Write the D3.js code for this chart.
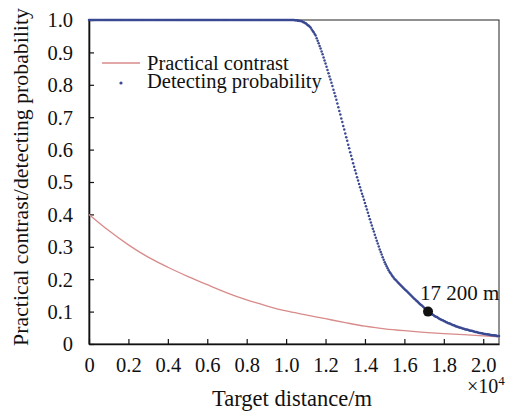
<!DOCTYPE html>
<html><head><meta charset="utf-8">
<script src="https://cdn.jsdelivr.net/npm/d3@7"></script>
<style>body{margin:0;background:#fff}svg{display:block}</style>
</head><body><svg id="c" width="506" height="411"></svg>
<script>
// Target distance (m) of each detecting-probability sample
const distance = [
0,50,100,150,200,250,300,350,400,450,500,550,600,650,700,750,800,850,900,950,
1000,1050,1100,1150,1200,1250,1300,1350,1400,1450,1500,1550,1600,1650,1700,1750,1800,1850,1900,1950,
2000,2050,2100,2150,2200,2250,2300,2350,2400,2450,2500,2550,2600,2650,2700,2750,2800,2850,2900,2950,
3000,3050,3100,3150,3200,3250,3300,3350,3400,3450,3500,3550,3600,3650,3700,3750,3800,3850,3900,3950,
4000,4050,4100,4150,4200,4250,4300,4350,4400,4450,4500,4550,4600,4650,4700,4750,4800,4850,4900,4950,
5000,5050,5100,5150,5200,5250,5300,5350,5400,5450,5500,5550,5600,5650,5700,5750,5800,5850,5900,5950,
6000,6050,6100,6150,6200,6250,6300,6350,6400,6450,6500,6550,6600,6650,6700,6750,6800,6850,6900,6950,
7000,7050,7100,7150,7200,7250,7300,7350,7400,7450,7500,7550,7600,7650,7700,7750,7800,7850,7900,7950,
8000,8050,8100,8150,8200,8250,8300,8350,8400,8450,8500,8550,8600,8650,8700,8750,8800,8850,8900,8950,
9000,9050,9100,9150,9200,9250,9300,9350,9400,9450,9500,9550,9600,9650,9700,9750,9800,9850,9900,9950,
10000,10050,10100,10150,10200,10250,10300,10350,10400,10450,10500,10550,10600,10650,10700,10750,10800,10850,10900,10950,
11000,11050,11100,11150,11200,11250,11300,11350,11400,11450,11500,11550,11600,11650,11700,11750,11800,11850,11900,11950,
12000,12050,12100,12150,12200,12250,12300,12350,12400,12450,12500,12550,12600,12650,12700,12750,12800,12850,12900,12950,
13000,13050,13100,13150,13200,13250,13300,13350,13400,13450,13500,13550,13600,13650,13700,13750,13800,13850,13900,13950,
14000,14050,14100,14150,14200,14250,14300,14350,14400,14450,14500,14550,14600,14650,14700,14750,14800,14850,14900,14950,
15000,15050,15100,15150,15200,15250,15300,15350,15400,15450,15500,15550,15600,15650,15700,15750,15800,15850,15900,15950,
16000,16050,16100,16150,16200,16250,16300,16350,16400,16450,16500,16550,16600,16650,16700,16750,16800,16850,16900,16950,
17000,17050,17100,17150,17200,17250,17300,17350,17400,17450,17500,17550,17600,17650,17700,17750,17800,17850,17900,17950,
18000,18050,18100,18150,18200,18250,18300,18350,18400,18450,18500,18550,18600,18650,18700,18750,18800,18850,18900,18950,
19000,19050,19100,19150,19200,19250,19300,19350,19400,19450,19500,19550,19600,19650,19700,19750,19800,19850,19900,19950,
20000,20050,20100,20150,20200,20250,20300,20350,20400,20450,20500,20550,20600,20650,20700,20750,20800
];
// Detecting probability at each distance
const probability = [
1,1,1,1,1,1,1,1,1,1,1,1,1,1,1,1,1,1,1,1,
1,1,1,1,1,1,1,1,1,1,1,1,1,1,1,1,1,1,1,1,
1,1,1,1,1,1,1,1,1,1,1,1,1,1,1,1,1,1,1,1,
1,1,1,1,1,1,1,1,1,1,1,1,1,1,1,1,1,1,1,1,
1,1,1,1,1,1,1,1,1,1,1,1,1,1,1,1,1,1,1,1,
1,1,1,1,1,1,1,1,1,1,1,1,1,1,1,1,1,1,1,1,
1,1,1,1,1,1,1,1,1,1,1,1,1,1,1,1,1,1,1,1,
1,1,1,1,1,1,1,1,1,1,1,1,1,1,1,1,1,1,1,1,
1,1,1,1,1,1,1,1,1,1,1,1,1,1,1,1,1,1,1,1,
1,1,1,1,1,1,1,1,1,1,1,1,1,1,1,1,1,1,1,1,
1,1,1,1,1,1,1,1,1,0.999,0.999,0.999,0.998,0.998,0.997,0.997,0.996,0.994,0.993,0.991,
0.990,0.987,0.984,0.982,0.979,0.976,0.971,0.966,0.962,0.957,0.952,0.944,0.936,0.928,0.920,0.912,0.903,0.894,0.884,0.875,
0.866,0.856,0.846,0.836,0.826,0.816,0.806,0.796,0.785,0.775,0.765,0.754,0.742,0.731,0.719,0.708,0.696,0.685,0.673,0.662,
0.650,0.638,0.627,0.615,0.604,0.592,0.581,0.570,0.558,0.547,0.536,0.526,0.515,0.505,0.494,0.484,0.474,0.464,0.455,0.445,
0.435,0.425,0.415,0.405,0.395,0.385,0.375,0.366,0.356,0.347,0.337,0.328,0.319,0.310,0.301,0.292,0.284,0.276,0.268,0.260,
0.252,0.246,0.240,0.234,0.228,0.222,0.218,0.214,0.209,0.205,0.201,0.198,0.195,0.191,0.188,0.185,0.182,0.179,0.176,0.173,
0.170,0.167,0.164,0.161,0.158,0.155,0.152,0.149,0.146,0.143,0.140,0.137,0.134,0.132,0.129,0.126,0.123,0.120,0.118,0.115,
0.112,0.109,0.107,0.104,0.102,0.099,0.097,0.095,0.092,0.090,0.088,0.086,0.084,0.083,0.081,0.079,0.077,0.076,0.074,0.073,
0.071,0.070,0.068,0.067,0.065,0.064,0.063,0.062,0.060,0.059,0.058,0.057,0.055,0.054,0.053,0.052,0.051,0.050,0.049,0.048,
0.047,0.046,0.045,0.045,0.044,0.043,0.042,0.041,0.041,0.040,0.039,0.038,0.037,0.037,0.036,0.035,0.034,0.034,0.033,0.033,
0.032,0.031,0.031,0.030,0.030,0.029,0.029,0.028,0.028,0.027,0.027,0.027,0.026,0.026,0.025,0.025,0.025
];
// Practical contrast curve
const contrastDistance = [0,1000,2000,3000,4000,5000,6000,7000,8000,9000,10000,11000,12000,13000,14000,15000,16000,17000,18000,19000,20000,20800];
const contrastValue = [0.40,0.350,0.306,0.268,0.237,0.209,0.183,0.158,0.136,0.118,0.102,0.090,0.078,0.066,0.055,0.047,0.041,0.036,0.032,0.029,0.025,0.022];
const xTicks = [0,2000,4000,6000,8000,10000,12000,14000,16000,18000,20000];
const xTickLabels = ["0","0.2","0.4","0.6","0.8","1.0","1.2","1.4","1.6","1.8","2.0"];
const yTicks = [0,0.1,0.2,0.3,0.4,0.5,0.6,0.7,0.8,0.9,1.0];
const yTickLabels = ["0","0.1","0.2","0.3","0.4","0.5","0.6","0.7","0.8","0.9","1.0"];
const markerDistance = [17200];
const markerValue = [0.1];
const markerLabel = "17 200 m";
const legendLabels = ["Practical contrast","Detecting probability"];

const FONT = "'Liberation Serif','Times New Roman',serif";
const svg = d3.select("#c");
const L = 89, R = 499, T = 20, B = 344;
const x = d3.scaleLinear().domain([0, 20800]).range([L, R]);
const y = d3.scaleLinear().domain([0, 1]).range([B, T]);

// frame
svg.append("rect").attr("x", L).attr("y", T).attr("width", R - L).attr("height", B - T)
  .attr("fill", "none").attr("stroke", "#222").attr("stroke-width", 1);

// axes with inward ticks
const xAxis = d3.axisBottom(x).tickValues(xTicks).tickSizeInner(-5).tickSizeOuter(0)
  .tickPadding(13).tickFormat((d, i) => xTickLabels[i]);
const gx = svg.append("g").attr("transform", `translate(0,${B})`).call(xAxis);
const yAxis = d3.axisLeft(y).tickValues(yTicks).tickSizeInner(-5).tickSizeOuter(0)
  .tickPadding(16).tickFormat((d, i) => yTickLabels[i]);
const gy = svg.append("g").attr("transform", `translate(${L},0)`).call(yAxis);
[gx, gy].forEach(g => {
  g.select(".domain").attr("stroke", "#111").attr("stroke-width", 1.6);
  g.selectAll(".tick line").attr("stroke", "#111").attr("stroke-width", 1.2);
  g.selectAll(".tick text").attr("font-family", FONT).attr("font-size", 20.5).attr("fill", "#111");
});
gy.selectAll(".tick text").attr("dy", "0.34em");

// contrast line
const line = d3.line().x(d => x(d[0])).y(d => y(d[1])).curve(d3.curveMonotoneX);
svg.append("path").datum(d3.zip(contrastDistance, contrastValue))
  .attr("d", line).attr("fill", "none").attr("stroke", "#d98a8a").attr("stroke-width", 1.3);

// probability dots
svg.append("g").selectAll("circle").data(d3.zip(distance, probability)).join("circle")
  .attr("cx", d => x(d[0])).attr("cy", d => y(d[1])).attr("r", 1.25).attr("fill", "#3a4992");

// marker
svg.append("g").selectAll("circle").data(d3.zip(markerDistance, markerValue)).join("circle")
  .attr("cx", d => x(d[0])).attr("cy", d => y(d[1])).attr("r", 5).attr("fill", "#111");
svg.append("text").attr("x", x(markerDistance[0]) - 8).attr("y", y(markerValue[0]) - 12)
  .attr("font-family", FONT).attr("font-size", 21).attr("fill", "#111").text(markerLabel);

// legend
svg.append("line").attr("x1", 102).attr("x2", 140).attr("y1", 63).attr("y2", 63)
  .attr("stroke", "#d98a8a").attr("stroke-width", 1.3);
svg.append("circle").attr("cx", 121).attr("cy", 83).attr("r", 1.6).attr("fill", "#3a4992");
svg.selectAll(".lg").data(legendLabels).join("text").attr("class", "lg")
  .attr("x", 147).attr("y", (d, i) => 70 + i * 17.5)
  .attr("font-family", FONT).attr("font-size", 20.5).attr("fill", "#111").text(d => d);

// axis titles
svg.append("text").attr("x", 292).attr("y", 406).attr("text-anchor", "middle")
  .attr("font-family", FONT).attr("font-size", 22.5).attr("fill", "#111").text("Target distance/m");
svg.append("text").attr("transform", "translate(28,177) rotate(-90)").attr("text-anchor", "middle")
  .attr("font-family", FONT).attr("font-size", 21.8).attr("fill", "#111").text("Practical contrast/detecting probability");
const ex = svg.append("text").attr("x", 467).attr("y", 393)
  .attr("font-family", FONT).attr("font-size", 20).attr("fill", "#111");
ex.append("tspan").text("×10");
ex.append("tspan").attr("dy", -8).attr("font-size", 13).text("4");
</script>
</body></html>
